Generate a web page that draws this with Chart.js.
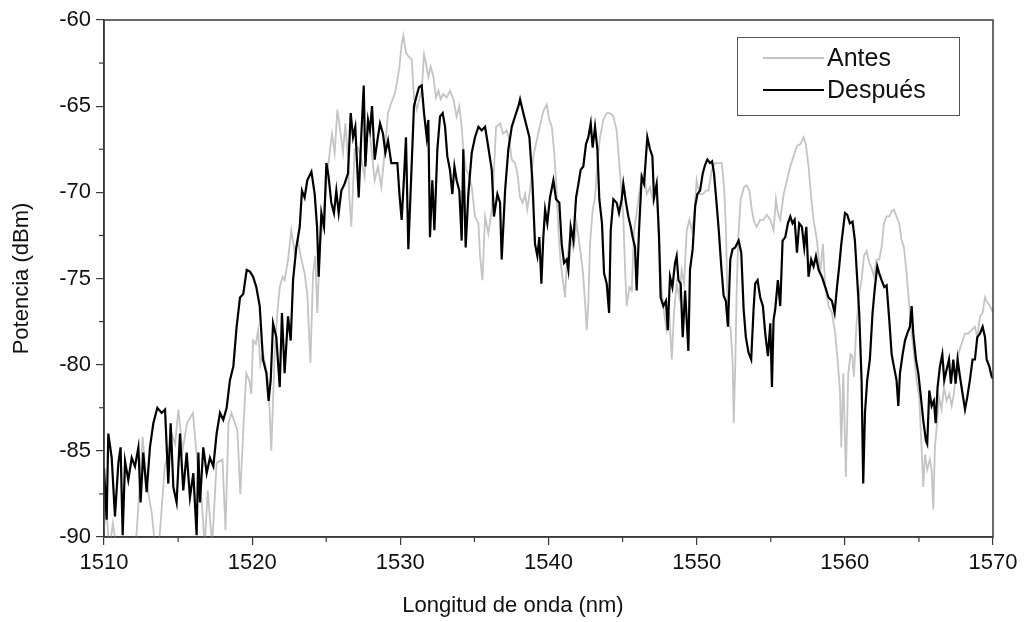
<!DOCTYPE html>
<html>
<head>
<meta charset="utf-8">
<script src="https://cdn.jsdelivr.net/npm/chart.js@4/dist/chart.umd.min.js"></script>
<style>
  html, body { margin: 0; padding: 0; background: #fff; }
  #wrap { width: 1026px; height: 622px; position: relative; }
</style>
</head>
<body>
<div id="wrap"><canvas id="c" width="1026" height="622"></canvas></div>
<script>
// ---- Data ----
const seriesNames = ['Antes', 'Después'];
const xTicks = [1510, 1520, 1530, 1540, 1550, 1560, 1570];
const yTicks = [-90, -85, -80, -75, -70, -65, -60];

const antesX = [1510.0,1510.15,1510.35,1510.6,1510.9,1511.3,1511.7,1512.0,1512.2,1512.43,1512.61,1512.77,1513.0,1513.22,1513.44,1513.66,1513.89,1514.1,1514.34,1514.57,1514.8,1515.02,1515.3,1515.6,1516.0,1516.3,1516.6,1516.8,1517.0,1517.3,1517.5,1517.6,1518.0,1518.2,1518.4,1518.6,1519.0,1519.2,1519.4,1519.6,1519.8,1519.94,1520.06,1520.25,1520.4,1520.55,1520.73,1520.96,1521.11,1521.29,1521.52,1521.7,1521.86,1522.05,1522.19,1522.42,1522.64,1522.87,1523.09,1523.32,1523.54,1523.72,1523.93,1524.11,1524.26,1524.4,1524.56,1524.78,1525.01,1525.23,1525.39,1525.57,1525.75,1525.91,1526.13,1526.29,1526.47,1526.56,1526.69,1526.92,1527.14,1527.37,1527.59,1527.82,1528.04,1528.27,1528.49,1528.72,1528.94,1529.17,1529.39,1529.62,1529.78,1529.94,1530.09,1530.2,1530.38,1530.54,1530.77,1530.92,1531.1,1531.28,1531.44,1531.6,1531.73,1531.89,1532.05,1532.23,1532.41,1532.57,1532.72,1532.9,1533.13,1533.35,1533.58,1533.8,1533.98,1534.14,1534.25,1534.43,1534.59,1534.82,1535.04,1535.27,1535.38,1535.54,1535.72,1535.94,1536.17,1536.32,1536.46,1536.73,1536.95,1537.18,1537.36,1537.52,1537.74,1537.9,1538.08,1538.26,1538.42,1538.57,1538.75,1538.98,1539.2,1539.43,1539.65,1539.88,1540.06,1540.22,1540.37,1540.51,1540.67,1540.82,1541.0,1541.12,1541.23,1541.45,1541.68,1541.9,1542.13,1542.31,1542.47,1542.58,1542.69,1542.8,1542.98,1543.14,1543.3,1543.48,1543.7,1543.93,1544.15,1544.38,1544.6,1544.83,1545.05,1545.17,1545.28,1545.46,1545.62,1545.77,1545.95,1546.11,1546.29,1546.45,1546.63,1546.85,1547.08,1547.3,1547.48,1547.64,1547.8,1547.98,1548.16,1548.32,1548.47,1548.65,1548.83,1548.99,1549.15,1549.33,1549.51,1549.67,1549.82,1550.0,1550.18,1550.41,1550.63,1550.8,1551.02,1551.24,1551.47,1551.69,1551.85,1551.98,1552.07,1552.19,1552.3,1552.43,1552.5,1552.61,1552.7,1552.81,1552.97,1553.2,1553.38,1553.56,1553.72,1553.87,1554.05,1554.28,1554.5,1554.74,1554.97,1555.19,1555.35,1555.48,1555.64,1555.87,1556.09,1556.32,1556.54,1556.77,1557.0,1557.22,1557.37,1557.55,1557.73,1557.89,1558.12,1558.34,1558.52,1558.68,1558.9,1559.13,1559.35,1559.53,1559.67,1559.76,1559.9,1560.07,1560.23,1560.39,1560.5,1560.61,1560.79,1560.97,1561.13,1561.29,1561.47,1561.65,1561.81,1561.96,1562.14,1562.32,1562.48,1562.64,1562.82,1563.0,1563.16,1563.31,1563.49,1563.67,1563.83,1563.99,1564.17,1564.35,1564.51,1564.66,1564.84,1565.02,1565.18,1565.29,1565.41,1565.56,1565.74,1565.86,1565.97,1566.08,1566.24,1566.37,1566.53,1566.69,1566.87,1567.05,1567.21,1567.36,1567.54,1567.72,1567.95,1568.11,1568.33,1568.56,1568.78,1568.94,1569.12,1569.3,1569.46,1569.62,1569.8,1570.0];
const antesY = [-89.5,-88.2,-90.8,-89.2,-91,-90.5,-91,-91,-89.8,-86.7,-84.2,-85.9,-87.5,-88.6,-90.5,-91,-88.4,-85.9,-85.2,-84.0,-84.6,-82.6,-85.0,-83.4,-82.8,-85.7,-88.0,-90.5,-87.3,-90.5,-87.3,-85.7,-85.5,-89.6,-83.4,-82.8,-83.8,-87.5,-83.8,-80.5,-80.9,-81.7,-78.6,-78.8,-78.0,-80.0,-79.3,-80.3,-81.3,-85.0,-79.3,-77.0,-75.5,-74.9,-75.1,-73.9,-72.2,-73.5,-72.8,-73.9,-74.7,-75.9,-79.9,-74.7,-73.7,-77.0,-73.2,-71.6,-69.5,-67.7,-66.6,-67.7,-65.2,-66.2,-67.7,-66.0,-68.1,-70.3,-72.0,-67.5,-67.4,-68.1,-69.1,-65.8,-67.4,-69.3,-68.5,-69.7,-67.7,-65.4,-64.8,-64.3,-63.6,-62.7,-61.4,-60.9,-61.9,-62.1,-62.3,-64.5,-65.2,-64.6,-64.1,-62.0,-62.5,-63.3,-62.7,-63.3,-64.5,-64.1,-64.6,-64.3,-64.5,-64.1,-64.6,-65.6,-65.0,-66.2,-67.5,-68.7,-68.9,-69.7,-71.4,-71.8,-73.7,-75.1,-71.4,-72.4,-71.0,-68.7,-66.2,-66.0,-66.6,-66.4,-67.0,-68.1,-68.3,-68.9,-70.3,-70.6,-70.1,-71.0,-69.9,-67.9,-67.0,-66.1,-65.3,-64.9,-65.8,-66.2,-67.5,-69.3,-72.2,-74.1,-75.3,-76.1,-74.1,-72.6,-73.3,-71.8,-73.3,-74.5,-76.4,-78.0,-76.4,-73.0,-71.0,-70.3,-68.3,-66.8,-65.8,-65.4,-65.4,-65.6,-66.4,-68.9,-71.4,-74.5,-76.6,-75.5,-75.7,-72.2,-71.2,-70.1,-69.1,-68.9,-70.1,-69.7,-70.6,-69.9,-73.0,-75.7,-77.0,-78.0,-77.2,-79.7,-77.0,-75.3,-76.1,-74.5,-75.3,-72.2,-71.6,-72.2,-71.4,-69.3,-70.1,-70.1,-69.9,-69.9,-68.7,-68.3,-68.3,-68.3,-69.7,-72.2,-76.1,-77.6,-78.0,-79.9,-83.4,-79.9,-75.7,-72.6,-70.4,-69.7,-69.6,-69.9,-71.0,-71.7,-72.0,-71.6,-71.6,-71.3,-71.6,-72.2,-70.4,-71.2,-71.6,-70.1,-69.3,-68.5,-67.9,-67.3,-67.2,-66.8,-67.2,-68.5,-70.3,-71.6,-72.8,-74.7,-73.0,-75.5,-76.6,-77.0,-78.2,-79.9,-81.5,-84.8,-80.5,-86.5,-80.5,-79.4,-79.5,-80.7,-77.6,-75.9,-75.1,-73.7,-73.4,-74.1,-74.4,-74.9,-73.9,-73.9,-73.2,-71.8,-71.4,-71.4,-71.1,-71.0,-71.4,-71.8,-72.8,-73.2,-74.7,-76.6,-78.2,-79.3,-80.9,-81.9,-84.8,-87.1,-85.2,-86.1,-85.5,-86.1,-88.4,-84.8,-83.2,-81.9,-82.6,-81.3,-82.1,-81.7,-82.4,-81.7,-80.1,-79.2,-78.6,-78.2,-78.2,-78.0,-77.8,-78.4,-77.2,-77.0,-76.1,-76.4,-76.6,-77.0];

const despuesX = [1510.0,1510.18,1510.29,1510.52,1510.74,1510.97,1511.12,1511.26,1511.42,1511.64,1511.87,1512.09,1512.32,1512.47,1512.65,1512.88,1513.1,1513.33,1513.6,1513.89,1514.12,1514.34,1514.5,1514.68,1514.9,1515.13,1515.35,1515.58,1515.8,1516.03,1516.25,1516.37,1516.48,1516.7,1516.93,1517.15,1517.38,1517.6,1517.83,1518.05,1518.28,1518.5,1518.73,1518.95,1519.18,1519.4,1519.63,1519.85,1520.06,1520.28,1520.51,1520.73,1520.96,1521.11,1521.25,1521.41,1521.63,1521.86,1522.01,1522.19,1522.42,1522.6,1522.76,1522.98,1523.21,1523.36,1523.54,1523.72,1524.0,1524.22,1524.38,1524.49,1524.67,1524.85,1525.01,1525.16,1525.34,1525.52,1525.68,1525.84,1526.02,1526.24,1526.47,1526.65,1526.81,1526.96,1527.19,1527.37,1527.53,1527.64,1527.82,1527.95,1528.09,1528.27,1528.45,1528.63,1528.83,1528.99,1529.17,1529.39,1529.62,1529.8,1529.94,1530.09,1530.25,1530.38,1530.54,1530.77,1530.92,1531.1,1531.26,1531.44,1531.6,1531.78,1531.89,1532.0,1532.16,1532.3,1532.5,1532.68,1532.86,1533.02,1533.17,1533.35,1533.51,1533.65,1533.8,1533.98,1534.14,1534.25,1534.41,1534.59,1534.82,1535.04,1535.27,1535.49,1535.72,1535.94,1536.17,1536.32,1536.55,1536.73,1536.84,1537.07,1537.29,1537.52,1537.74,1537.97,1538.08,1538.3,1538.53,1538.71,1538.91,1539.09,1539.25,1539.38,1539.52,1539.65,1539.77,1539.92,1540.1,1540.33,1540.51,1540.73,1540.89,1541.05,1541.23,1541.34,1541.5,1541.68,1541.86,1542.02,1542.17,1542.35,1542.53,1542.69,1542.85,1542.98,1543.14,1543.3,1543.43,1543.61,1543.75,1543.93,1544.09,1544.2,1544.38,1544.6,1544.76,1544.94,1545.05,1545.23,1545.39,1545.55,1545.68,1545.84,1545.95,1546.11,1546.29,1546.45,1546.58,1546.67,1546.85,1547.01,1547.12,1547.3,1547.46,1547.57,1547.75,1547.93,1548.05,1548.2,1548.36,1548.54,1548.65,1548.77,1548.92,1549.06,1549.22,1549.44,1549.55,1549.73,1549.9,1550.05,1550.23,1550.41,1550.57,1550.72,1550.9,1551.04,1551.17,1551.35,1551.5,1551.66,1551.82,1551.97,1552.11,1552.27,1552.42,1552.6,1552.83,1553.01,1553.17,1553.32,1553.5,1553.68,1553.84,1553.95,1554.11,1554.29,1554.47,1554.63,1554.81,1554.97,1555.08,1555.19,1555.3,1555.48,1555.64,1555.8,1555.98,1556.16,1556.32,1556.47,1556.61,1556.77,1556.92,1557.1,1557.26,1557.4,1557.55,1557.73,1557.89,1558.05,1558.23,1558.45,1558.68,1558.9,1559.13,1559.31,1559.47,1559.62,1559.76,1559.9,1560.01,1560.16,1560.34,1560.52,1560.68,1560.84,1560.97,1561.13,1561.24,1561.36,1561.51,1561.69,1561.87,1562.03,1562.19,1562.32,1562.48,1562.66,1562.82,1563.0,1563.16,1563.31,1563.49,1563.61,1563.72,1563.9,1564.06,1564.21,1564.39,1564.51,1564.62,1564.8,1564.96,1565.11,1565.29,1565.47,1565.56,1565.7,1565.86,1566.01,1566.13,1566.26,1566.42,1566.58,1566.71,1566.87,1567.03,1567.16,1567.32,1567.48,1567.61,1567.77,1567.95,1568.11,1568.26,1568.44,1568.62,1568.78,1568.94,1569.12,1569.3,1569.46,1569.57,1569.75,1569.91,1570.0];
const despuesY = [-86.0,-89.0,-84.0,-85.4,-88.8,-85.7,-84.8,-89.9,-85.6,-86.7,-85.4,-85.9,-84.8,-88.0,-85.1,-87.4,-84.8,-83.4,-82.5,-82.8,-82.6,-86.9,-83.4,-87.1,-88.0,-84.0,-87.3,-85.1,-87.7,-86.3,-89.9,-85.1,-88.0,-84.8,-86.3,-85.4,-85.9,-84.0,-82.8,-83.2,-82.5,-80.9,-80.1,-77.8,-76.1,-75.9,-74.5,-74.6,-74.9,-75.5,-76.6,-79.7,-80.5,-82.1,-80.9,-77.6,-78.4,-81.3,-77.0,-80.5,-77.2,-78.6,-75.1,-73.2,-72.0,-69.9,-70.3,-69.3,-68.8,-70.1,-72.0,-74.9,-71.2,-72.0,-68.3,-69.1,-70.6,-71.2,-69.9,-71.2,-69.9,-69.5,-68.9,-65.4,-66.8,-66.2,-70.3,-66.6,-63.8,-68.5,-65.8,-66.4,-65.0,-68.1,-67.0,-66.0,-66.6,-67.7,-67.0,-68.3,-68.3,-68.3,-70.1,-71.6,-69.1,-66.8,-73.3,-68.3,-65.0,-64.4,-63.9,-63.8,-65.4,-66.8,-65.8,-72.6,-69.3,-72.2,-67.5,-65.6,-65.4,-66.2,-67.9,-68.7,-70.1,-68.5,-69.3,-69.9,-72.8,-67.5,-73.2,-70.1,-67.7,-66.8,-66.2,-66.4,-66.2,-67.4,-68.7,-71.4,-70.1,-70.6,-73.9,-69.9,-67.5,-66.2,-65.6,-65.0,-64.6,-65.4,-66.2,-66.8,-69.3,-73.0,-73.7,-72.6,-75.3,-72.6,-71.0,-71.8,-70.3,-69.3,-70.4,-70.6,-73.0,-74.1,-73.9,-74.5,-72.0,-72.8,-70.3,-69.5,-68.7,-68.5,-67.2,-66.8,-66.0,-67.4,-66.2,-67.5,-70.4,-71.8,-74.7,-75.3,-77.0,-72.2,-70.4,-70.6,-71.2,-70.4,-69.5,-70.6,-71.4,-72.0,-72.6,-73.2,-75.7,-72.2,-69.1,-69.5,-67.9,-66.8,-67.5,-67.9,-70.3,-69.5,-72.6,-76.1,-76.6,-76.3,-78.0,-74.9,-75.5,-74.1,-73.7,-75.1,-75.3,-78.4,-75.7,-79.2,-74.5,-73.3,-70.8,-70.1,-69.9,-68.9,-68.4,-68.1,-68.3,-68.2,-68.9,-70.7,-72.3,-74.3,-76.0,-76.3,-77.8,-73.9,-73.3,-73.2,-72.8,-73.5,-76.8,-78.4,-79.3,-79.7,-76.8,-75.3,-75.1,-76.1,-76.6,-78.2,-79.5,-77.6,-81.3,-77.4,-76.8,-75.1,-76.6,-72.8,-72.6,-71.8,-71.4,-71.8,-71.6,-73.5,-71.8,-72.0,-73.2,-72.0,-74.9,-73.9,-74.3,-73.7,-74.5,-74.9,-75.5,-76.1,-76.3,-77.0,-75.5,-74.3,-73.0,-72.0,-71.2,-71.3,-71.8,-71.7,-72.8,-75.1,-77.0,-80.9,-86.9,-82.8,-80.9,-79.7,-77.0,-75.5,-74.3,-74.7,-75.1,-75.5,-75.4,-77.4,-79.4,-80.1,-80.9,-82.4,-80.5,-79.4,-78.6,-78.2,-77.8,-76.6,-78.2,-79.7,-80.5,-81.7,-83.2,-84.4,-84.6,-81.5,-82.4,-82.1,-83.4,-81.3,-80.1,-79.4,-80.9,-80.3,-79.7,-81.1,-79.7,-81.1,-79.7,-80.7,-81.7,-82.6,-81.9,-80.9,-79.7,-79.7,-78.4,-78.2,-77.8,-78.4,-79.7,-80.1,-80.7,-80.8];

const xTitle = 'Longitud de onda (nm)';
const yTitle = 'Potencia (dBm)';

// ---- build chart ----
const toPts = (xs, ys) => xs.map((x, i) => ({ x: x, y: ys[i] }));
const FONT = "'Liberation Sans', Arial, sans-serif";
const AXIS = '#3a3a3a';

const framePlugin = {
  id: 'frame',
  afterDraw(chart) {
    const { ctx, chartArea: a, scales } = chart;
    ctx.save();
    // minor ticks
    ctx.strokeStyle = AXIS;
    ctx.lineWidth = 1.2;
    const xs = scales.x, ys = scales.y;
    for (let i = 0; i < xTicks.length - 1; i++) {
      const px = xs.getPixelForValue((xTicks[i] + xTicks[i + 1]) / 2);
      ctx.beginPath(); ctx.moveTo(px, a.bottom); ctx.lineTo(px, a.bottom + 5); ctx.stroke();
    }
    for (let i = 0; i < yTicks.length - 1; i++) {
      const py = ys.getPixelForValue((yTicks[i] + yTicks[i + 1]) / 2);
      ctx.beginPath(); ctx.moveTo(a.left, py); ctx.lineTo(a.left - 5, py); ctx.stroke();
    }
    // frame
    ctx.lineWidth = 1.5;
    ctx.strokeRect(a.left, a.top, a.right - a.left, a.bottom - a.top);
    // x-axis title, centred on the page as in the reference
    ctx.font = '22px ' + FONT;
    ctx.fillStyle = '#111';
    ctx.textAlign = 'center';
    ctx.textBaseline = 'middle';
    ctx.fillText(xTitle, chart.width / 2, a.bottom + 69);
    // legend
    const bx = a.right - 256, by = a.top + 17, bw = 222, bh = 78;
    ctx.fillStyle = '#fff';
    ctx.fillRect(bx, by, bw, bh);
    ctx.strokeStyle = '#555';
    ctx.lineWidth = 1;
    ctx.strokeRect(bx + 0.5, by + 0.5, bw, bh);
    const items = [
      { label: seriesNames[0], color: '#c4c4c4', w: 1.8, y: by + 21 },
      { label: seriesNames[1], color: '#000', w: 2, y: by + 53 }
    ];
    ctx.font = '25px ' + FONT;
    ctx.textAlign = 'left';
    items.forEach(it => {
      ctx.strokeStyle = it.color; ctx.lineWidth = it.w;
      ctx.beginPath(); ctx.moveTo(bx + 26, it.y); ctx.lineTo(bx + 87, it.y); ctx.stroke();
      ctx.fillStyle = '#111';
      ctx.fillText(it.label, bx + 90, it.y + 1);
    });
    ctx.restore();
  }
};

new Chart(document.getElementById('c'), {
  type: 'line',
  data: {
    datasets: [
      { label: seriesNames[0], data: toPts(antesX, antesY), borderColor: '#c4c4c4', borderWidth: 1.8, pointRadius: 0, tension: 0, fill: false, order: 2, clip: 0 },
      { label: seriesNames[1], data: toPts(despuesX, despuesY), borderColor: '#000000', borderWidth: 2.2, pointRadius: 0, tension: 0, fill: false, order: 1, clip: 0 }
    ]
  },
  options: {
    responsive: false,
    animation: false,
    devicePixelRatio: 1,
    layout: { padding: { left: 0, right: 33, top: 20, bottom: 0 } },
    plugins: { legend: { display: false }, tooltip: { enabled: false } },
    scales: {
      x: {
        type: 'linear', min: 1510, max: 1570,
        afterFit: s => { s.height = 85; },
        afterBuildTicks: s => { s.ticks = xTicks.map(v => ({ value: v })); },
        ticks: { font: { family: FONT, size: 22 }, color: '#111', padding: 5, maxRotation: 0, callback: v => String(v) },
        grid: { drawOnChartArea: false, drawTicks: true, tickLength: 8, color: AXIS, lineWidth: 1.2 },
        border: { display: true, color: AXIS, width: 1.5 },
        title: { display: false }
      },
      y: {
        type: 'linear', min: -90, max: -60,
        afterFit: s => { s.width = 104; },
        afterBuildTicks: s => { s.ticks = yTicks.map(v => ({ value: v })); },
        ticks: { font: { family: FONT, size: 22 }, color: '#111', padding: 5, callback: v => String(v) },
        grid: { drawOnChartArea: false, drawTicks: true, tickLength: 8, color: AXIS, lineWidth: 1.2 },
        border: { display: true, color: AXIS, width: 1.5 },
        title: { display: true, text: yTitle, font: { family: FONT, size: 22 }, color: '#111', padding: { top: 9, bottom: 0 } }
      }
    }
  },
  plugins: [framePlugin]
});
</script>
</body>
</html>
